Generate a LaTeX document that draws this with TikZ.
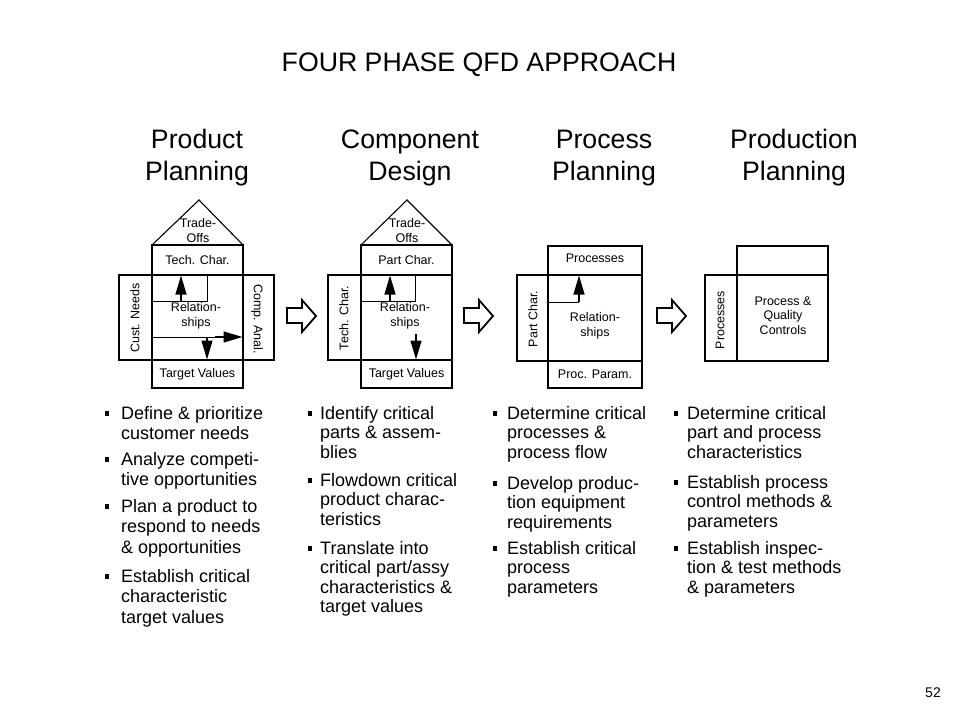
\documentclass[tikz,border=0pt]{standalone}
\usepackage{fontspec}
\setmainfont{Liberation Sans}
\usetikzlibrary{arrows.meta}
\begin{document}
\begin{tikzpicture}[x=1pt,y=-1pt,
  box/.style={draw, line width=1.1pt},
  thin/.style={draw, line width=0.9pt},
  tipa/.style={-{Triangle[length=19pt,width=11pt]}, line width=1.2pt},
  lbl/.style={font=\fontsize{12.5}{14.5}\selectfont, align=center, inner sep=0pt},
  phase/.style={font=\fontsize{26.7}{32}\selectfont, align=center, inner sep=0pt},
  hollow/.style={draw, line width=1.8pt, line join=miter, fill=white},
  itemA/.style={anchor=north west, align=left, inner sep=0pt, font=\fontsize{18}{20.5}\selectfont},
  itemB/.style={anchor=north west, align=left, inner sep=0pt, font=\fontsize{18}{19.5}\selectfont},
  bul/.style={fill=black, minimum width=4pt, minimum height=5pt, inner sep=0pt}
]
\useasboundingbox (0,0) rectangle (960,720);
\fill[white] (0,0) rectangle (960,720);

% title
\node[font=\fontsize{26.7}{32}\selectfont, inner sep=0pt] (title) at (479,65) {FOUR PHASE QFD APPROACH};

% phase titles
\node[phase] (t1) at (197,158) {Product\\Planning};
\node[phase] (t2) at (410,158) {Component\\Design};
\node[phase] (t3) at (604,158) {Process\\Planning};
\node[phase] (t4) at (794,158) {Production\\Planning};

% ---------- Phase 1 ----------
\draw[box] (152,245) -- (199,200) -- (243,245);
\draw[box] (152,245) rectangle (243,388);
\draw[box] (119,275) rectangle (274,360);
\draw[thin] (152,301) -- (207,301) -- (207,275);
\draw[tipa] (181,301) -- (181,275.5);
\draw[thin] (152,337) -- (222,337);
\draw[tipa] (215,337) -- (242.5,337);
\draw[tipa] (207,337) -- (207,359.5);
\node[lbl] (p1to) at (198,230.5) {Trade-\\Offs};
\node[lbl] (p1tc) at (197.5,260) {Tech. Char.};
\node[lbl] (p1rs) at (196,316) {Relation-\\ships};
\node[lbl] (p1tv) at (197.5,374) {Target Values};
\node[lbl, rotate=90] (p1cn) at (135,318) {Cust. Needs};
\node[lbl, rotate=-90] (p1ca) at (257,319) {Comp. Anal.};

% ---------- Phase 2 ----------
\draw[box] (361,245) -- (407,200) -- (452,245);
\draw[box] (361,245) rectangle (452,388);
\draw[box] (328,275) rectangle (452,360);
\draw[thin] (361,301) -- (415,301) -- (415,275);
\draw[tipa] (390,301) -- (390,275.5);
\draw[tipa] (416,334) -- (416,359.5);
\node[lbl] (p2to) at (407,230.5) {Trade-\\Offs};
\node[lbl] (p2pc) at (406.5,260) {Part Char.};
\node[lbl] (p2rs) at (405,316) {Relation-\\ships};
\node[lbl] (p2tv) at (406.5,374) {Target Values};
\node[lbl, rotate=90] (p2tc) at (344,318) {Tech. Char.};

% ---------- Phase 3 ----------
\draw[box] (548,246) rectangle (642,388);
\draw[box] (517,275) rectangle (642,361);
\draw[thin] (548,302) -- (579,302);
\draw[tipa] (579,302) -- (579,275.5);
\node[lbl] (p3pr) at (595,258) {Processes};
\node[lbl] (p3rs) at (595,326) {Relation-\\ships};
\node[lbl] (p3pp) at (595,374) {Proc. Param.};
\node[lbl, rotate=90] (p3pc) at (533,319) {Part Char.};

% ---------- Phase 4 ----------
\draw[box] (737,246) rectangle (828,361);
\draw[box] (705,275) rectangle (828,361);
\node[lbl, rotate=90] (p4pr) at (720,320) {Processes};
\node[lbl] (p4qc) at (783,315.5) {Process \&\\Quality\\Controls};

% ---------- hollow arrows ----------
\foreach \xa/\n in {287/a1, 464/a2, 657/a3}{
  \draw[hollow] (\xa,308) -- ++(15,0) -- ++(0,-8) -- ++(14,16) -- ++(-14,16) -- ++(0,-9) -- ++(-15,0) -- cycle;
}

% ---------- bullet lists ----------
% column 1
\node[bul] (b11) at (107,413.5) {};
\node[itemA] (i11) at (121,406) {Define \& prioritize\\customer needs};
\node[bul] (b12) at (107,459.5) {};
\node[itemA] (i12) at (121,452) {Analyze competi-\\tive opportunities};
\node[bul] (b13) at (107,506.5) {};
\node[itemA] (i13) at (121,499) {Plan a product to\\respond to needs\\\& opportunities};
\node[bul] (b14) at (107,576.5) {};
\node[itemA] (i14) at (121,569) {Establish critical\\characteristic\\target values};
% column 2
\node[bul] (b21) at (310,413.5) {};
\node[itemB] (i21) at (320,406) {Identify critical\\parts \& assem-\\blies};
\node[bul] (b22) at (310,480.5) {};
\node[itemB] (i22) at (320,473) {Flowdown critical\\product charac-\\teristics};
\node[bul] (b23) at (310,548.5) {};
\node[itemB] (i23) at (320,541) {Translate into\\critical part/assy\\characteristics \&\\target values};
% column 3
\node[bul] (b31) at (495,413.5) {};
\node[itemB] (i31) at (507,406) {Determine critical\\processes \&\\process flow};
\node[bul] (b32) at (495,483.5) {};
\node[itemB] (i32) at (507,476) {Develop produc-\\tion equipment\\requirements};
\node[bul] (b33) at (495,548.5) {};
\node[itemB] (i33) at (507,541) {Establish critical\\process\\parameters};
% column 4
\node[bul] (b41) at (675.5,413.5) {};
\node[itemB] (i41) at (687,406) {Determine critical\\part and process\\characteristics};
\node[bul] (b42) at (675.5,482.5) {};
\node[itemB] (i42) at (687,475) {Establish process\\control methods \&\\parameters};
\node[bul] (b43) at (675.5,548.5) {};
\node[itemB] (i43) at (687,541) {Establish inspec-\\tion \& test methods\\\& parameters};

% page number
\node[font=\fontsize{14}{16}\selectfont, inner sep=0pt] (pg) at (933,693) {52};
\end{tikzpicture}
\end{document}
